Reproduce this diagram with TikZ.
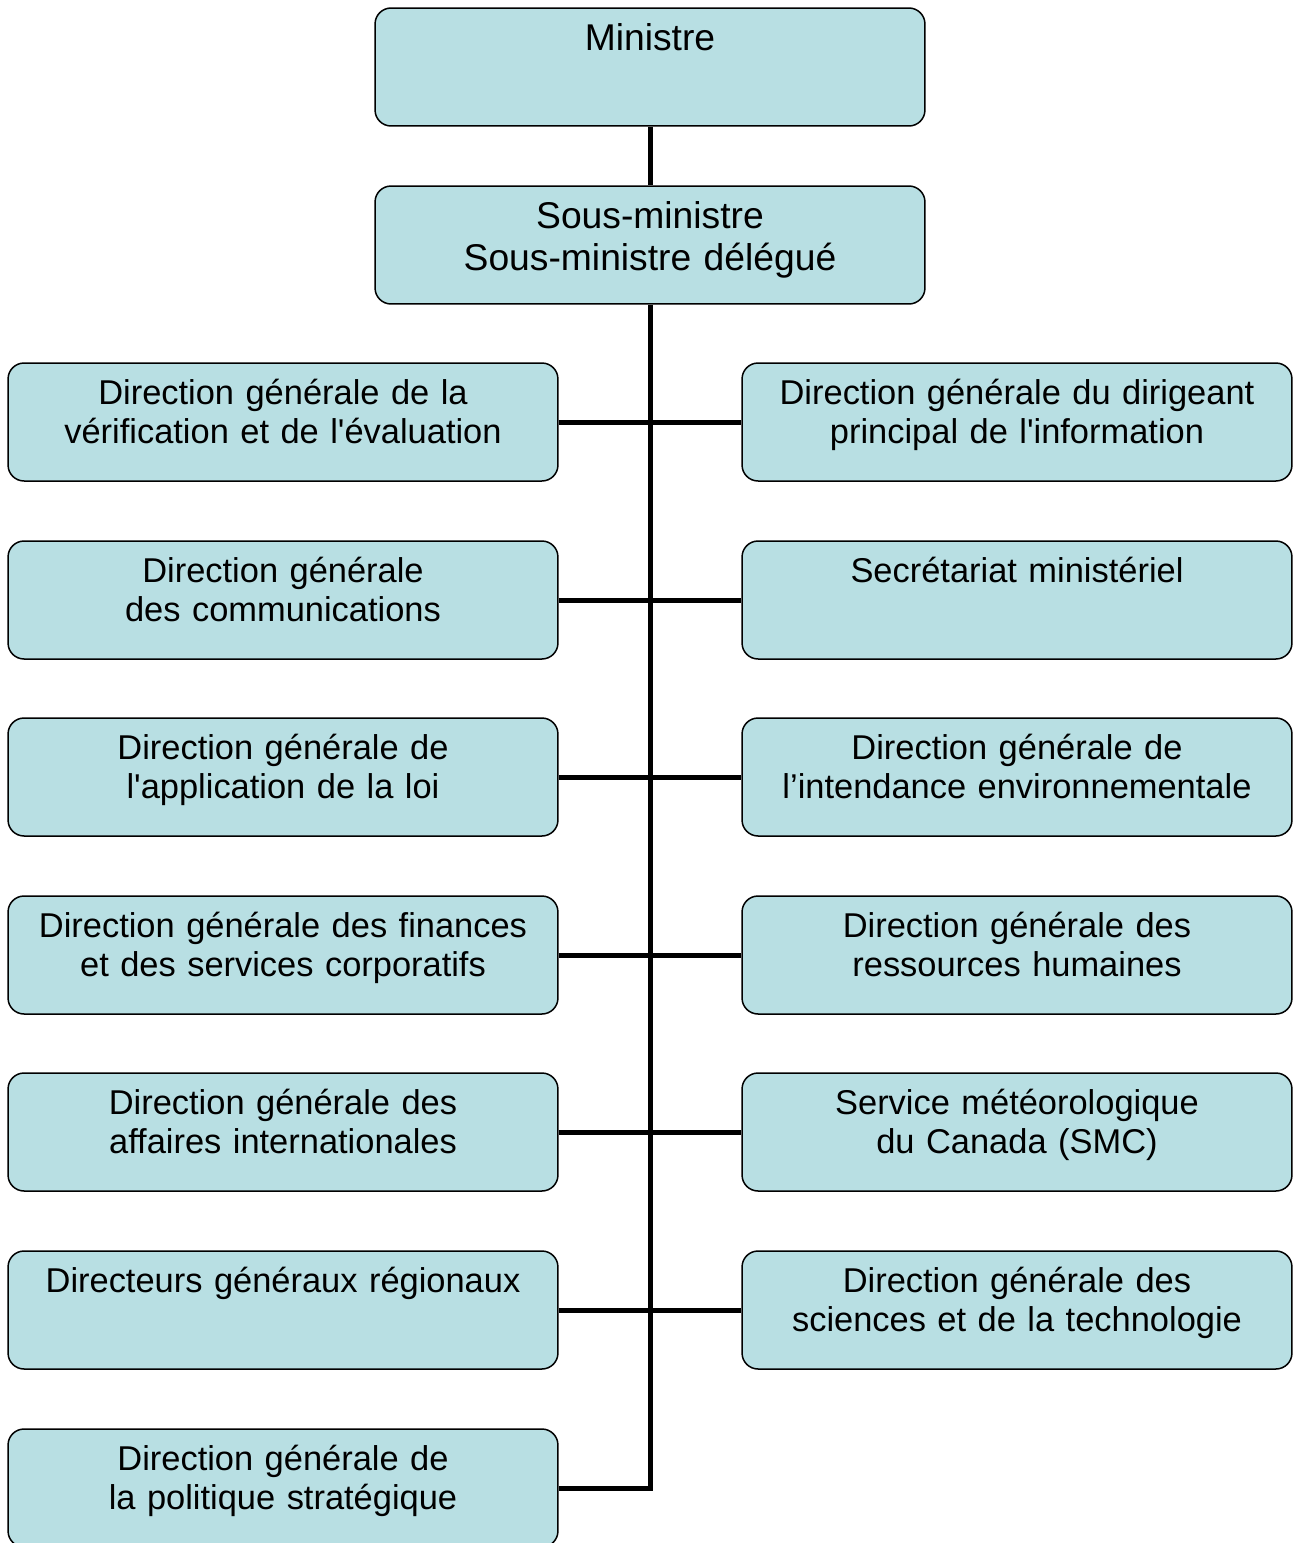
\documentclass[tikz,border=0pt]{standalone}
\usepackage{fontspec}
\setmainfont{Liberation Sans}[Ligatures=TeXOff]
\usetikzlibrary{calc,positioning}
\usepackage{xcolor}
\definecolor{boxblue}{RGB}{184,223,227}

\tikzset{
  unit/.style={draw=black, line width=0.03cm, fill=boxblue, rounded corners=0.32cm,
    inner xsep=0pt, inner ysep=0pt, text width=11cm, align=center,
    text height=0.82cm, text depth=1.54cm,
    font=\fontsize{19.6}{22.5}\selectfont},
  headunit/.style={unit, text height=0.84cm, text depth=1.52cm,
    font=\fontsize{21.2}{23.9}\selectfont},
  link/.style={line width=0.1cm, line join=miter}
}

\begin{document}
\begin{tikzpicture}[x=0.02cm,y=-0.02cm]
\useasboundingbox (0,0) rectangle (1294,1543);

% top of the chart
\node[headunit] (min) at (650,67) {Ministre};
\node[headunit] (smin) at (650,245) {Sous-ministre\\Sous-ministre délégué};

% left column
\node[unit] (verif) at (283,422) {Direction générale de la\\vérification et de l'évaluation};
\node[unit] (comm) at (283,600) {Direction générale\\des communications};
\node[unit] (loi) at (283,777) {Direction générale de\\l'application de la loi};
\node[unit] (fin) at (283,955) {Direction générale des finances\\et des services corporatifs};
\node[unit] (intl) at (283,1132) {Direction générale des\\affaires internationales};
\node[unit] (regio) at (283,1310) {Directeurs généraux régionaux};
\node[unit] (polit) at (283,1488) {Direction générale de\\la politique stratégique};

% right column
\node[unit] (dpi) at (1017,422) {Direction générale du dirigeant\\principal de l'information};
\node[unit] (secr) at (1017,600) {Secrétariat ministériel};
\node[unit] (intend) at (1017,777) {Direction générale de\\l’intendance environnementale};
\node[unit] (rh) at (1017,955) {Direction générale des\\ressources humaines};
\node[unit] (smc) at (1017,1132) {Service météorologique\\du Canada (SMC)};
\node[unit] (sci) at (1017,1310) {Direction générale des\\sciences et de la technologie};

% connectors
\draw[link] (min.south) -- (smin.north);
\draw[link] (smin.south) -- (smin.south |- polit.east) -- (polit.east);
\draw[link] (verif.east) -- (dpi.west);
\draw[link] (comm.east) -- (secr.west);
\draw[link] (loi.east) -- (intend.west);
\draw[link] (fin.east) -- (rh.west);
\draw[link] (intl.east) -- (smc.west);
\draw[link] (regio.east) -- (sci.west);
\end{tikzpicture}
\end{document}
